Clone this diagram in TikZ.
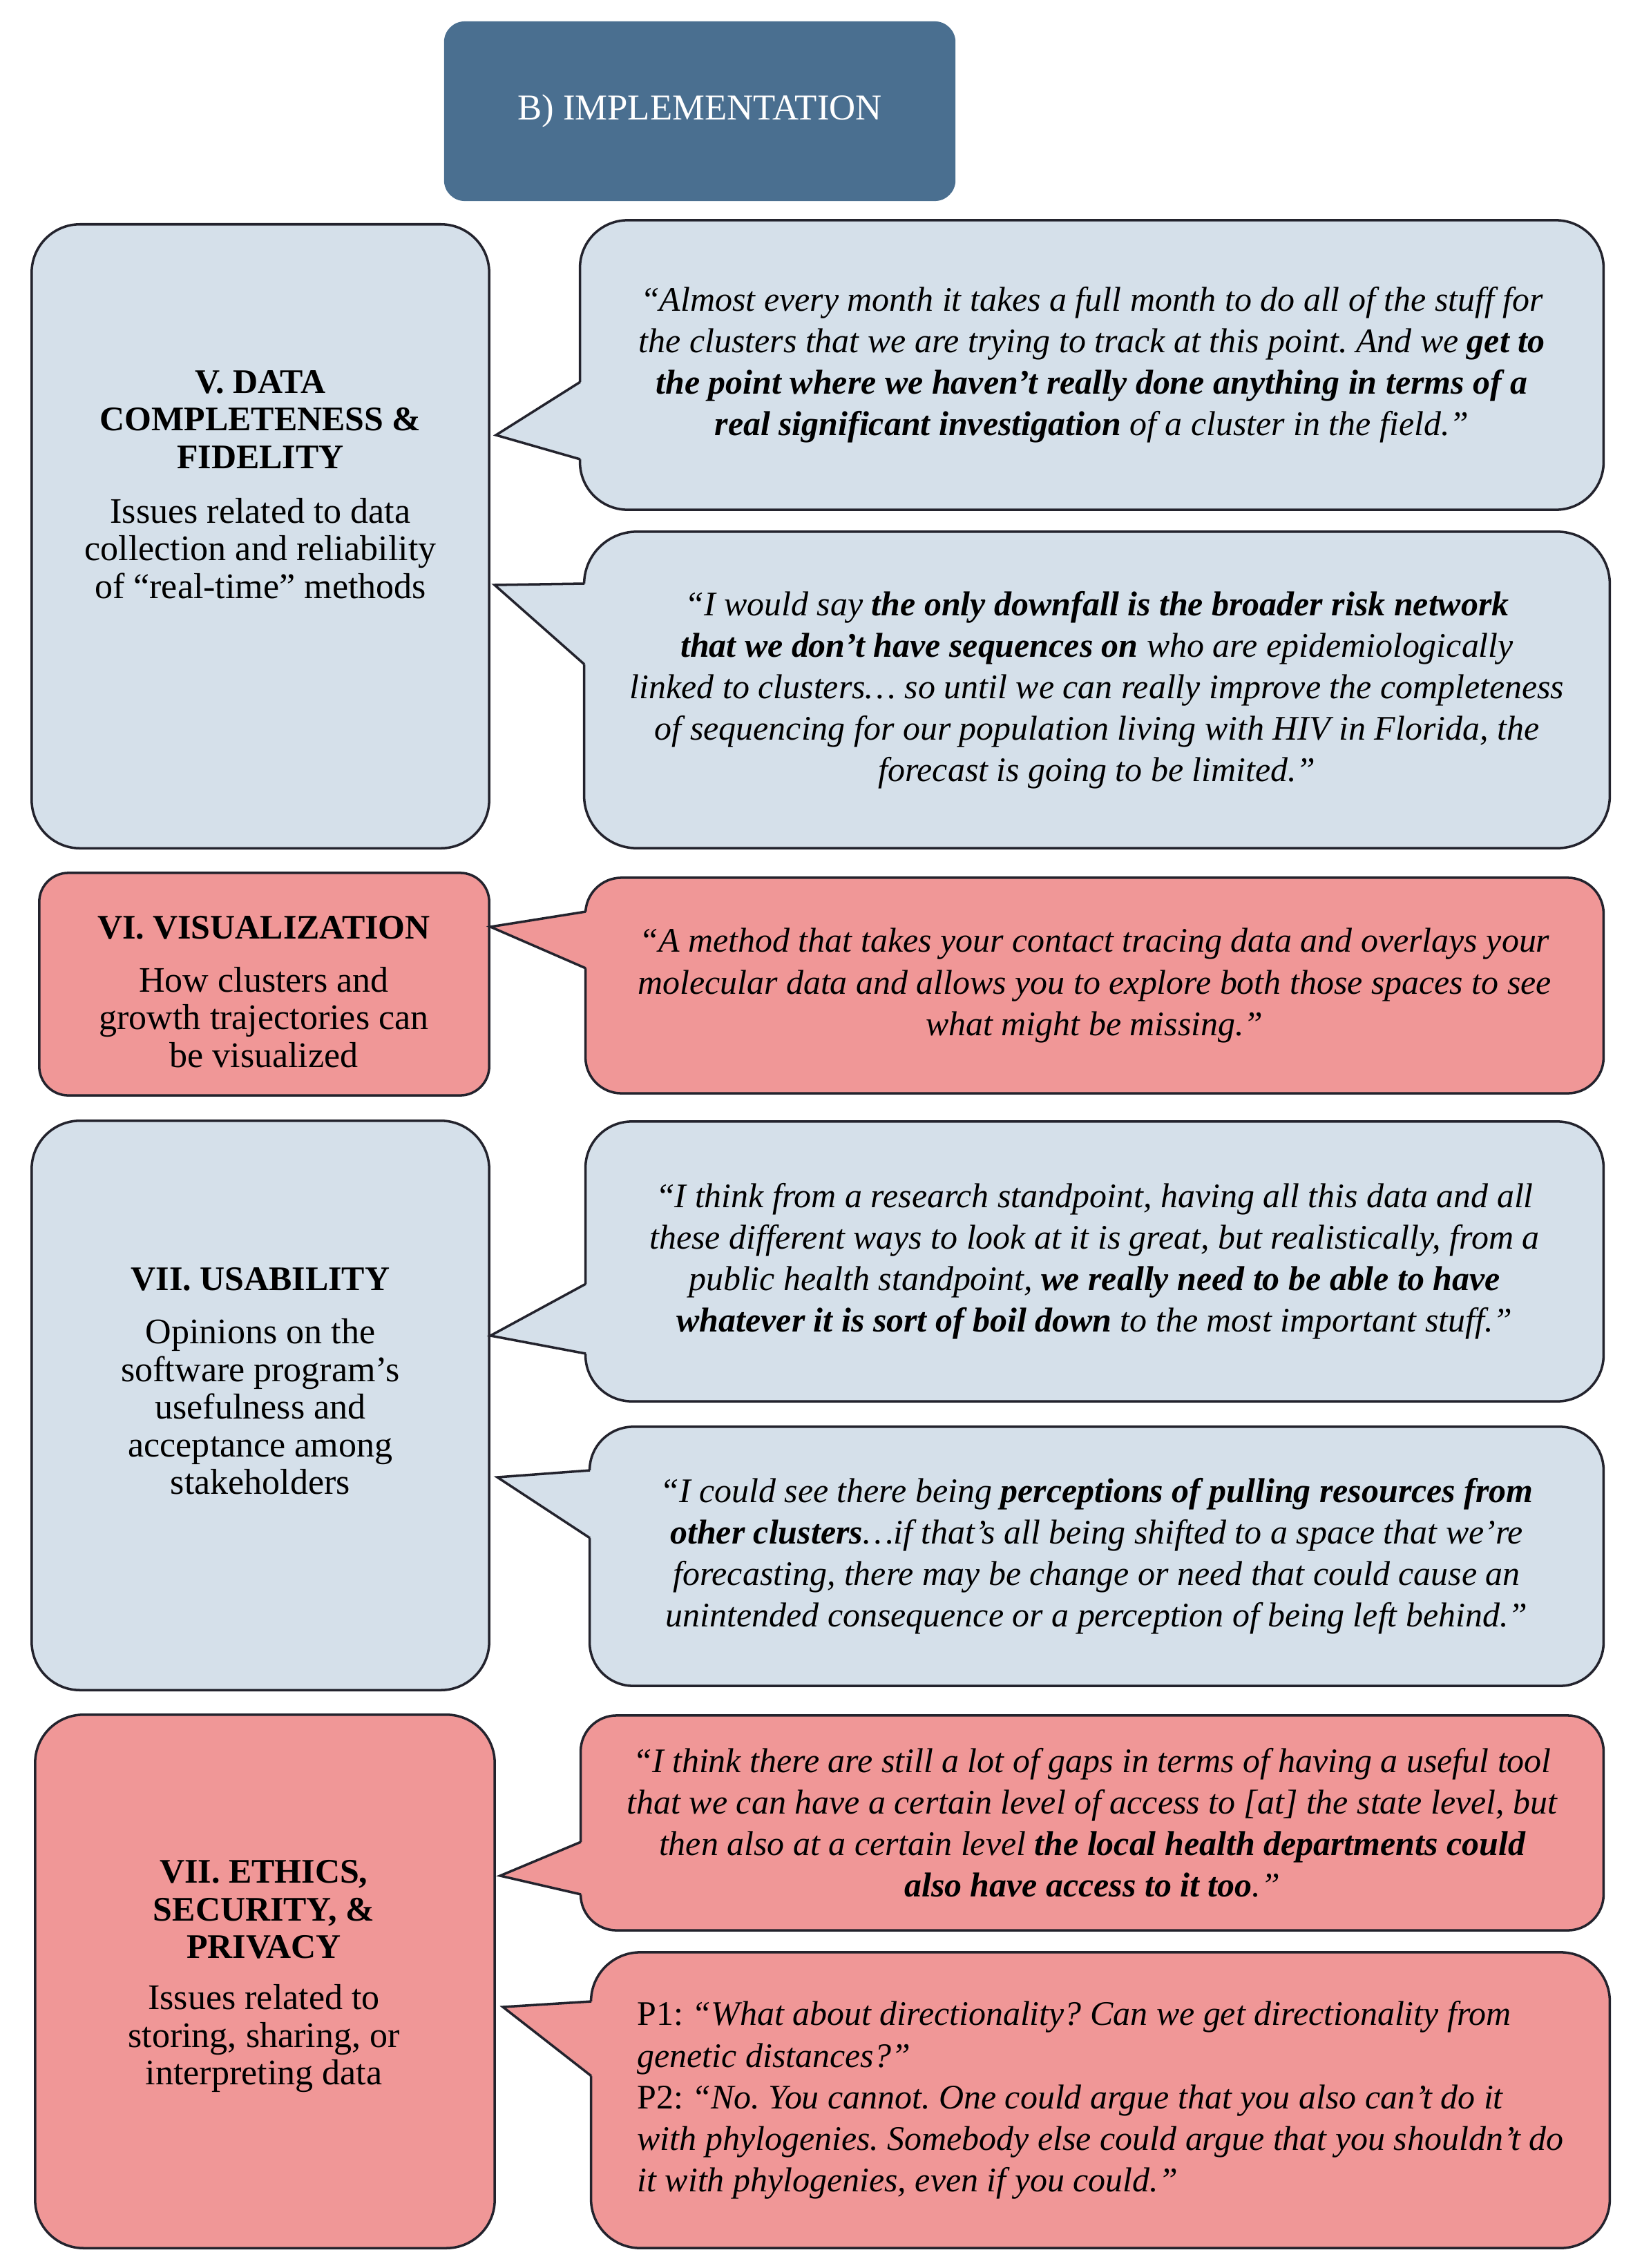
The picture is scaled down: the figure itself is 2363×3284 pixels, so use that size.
\documentclass[tikz,border=0pt]{standalone}
\usepackage{fontspec}
\setmainfont{Liberation Serif}
\definecolor{bluefill}{RGB}{213,224,234}
\definecolor{pinkfill}{RGB}{240,151,151}
\definecolor{titleblue}{RGB}{74,111,144}
\definecolor{edgecol}{RGB}{35,35,45}
\tikzset{
  lbox/.style={draw=edgecol, line width=1pt, rectangle, inner sep=0pt},
  qbubble/.style={draw=edgecol, line width=1pt, rectangle, inner sep=0pt, align=center,
     font=\fontsize{14.2}{17.1}\selectfont\itshape},
  headtxt/.style={align=center, inner sep=0pt, font=\fontsize{14.2}{15.5}\selectfont\bfseries},
  desctxt/.style={align=center, inner sep=0pt, font=\fontsize{14.8}{15.5}\selectfont},
  ptr/.style={draw=edgecol, line width=1pt, line join=miter},
}
\begin{document}
\frenchspacing
\begin{tikzpicture}[x=0.01cm, y=-0.01cm]
\useasboundingbox (0,0) rectangle (2363,3284);

% title
\node[rectangle, fill=titleblue, rounded corners=0.3cm, minimum width=7.40cm, minimum height=2.60cm,
      text=white, font=\fontsize{15}{17}\selectfont] (title) at (1013,161) {B) IMPLEMENTATION};

% left boxes
\node[lbox, fill=bluefill, rounded corners=0.7cm, minimum width=6.62cm, minimum height=9.03cm] (L1) at (377,776.5) {};
\node[lbox, fill=pinkfill, rounded corners=0.42cm, minimum width=6.51cm, minimum height=3.22cm] (L2) at (382.5,1425) {};
\node[lbox, fill=bluefill, rounded corners=0.7cm, minimum width=6.62cm, minimum height=8.24cm] (L3) at (377,2035) {};
\node[lbox, fill=pinkfill, rounded corners=0.7cm, minimum width=6.65cm, minimum height=7.72cm] (L4) at (383.5,2869) {};

\node[headtxt] (h1) at (377,607.5) {V. DATA\\COMPLETENESS \&\\FIDELITY};
\node[desctxt] (d1) at (377,794) {Issues related to data\\collection and reliability\\of “real-time” methods};
\node[headtxt] (h2) at (382,1343) {VI. VISUALIZATION};
\node[desctxt] (d2) at (382,1473) {How clusters and\\growth trajectories can\\be visualized};
\node[headtxt] (h3) at (377,1852) {VII. USABILITY};
\node[desctxt] (d3) at (377,2037) {Opinions on the\\software program’s\\usefulness and\\acceptance among\\stakeholders};
\node[headtxt] (h4) at (382,2765) {VII. ETHICS,\\SECURITY, \&\\PRIVACY};
\node[desctxt] (d4) at (382,2952) {Issues related to\\storing, sharing, or\\interpreting data};

% bubbles
\node[qbubble, fill=bluefill, rounded corners=0.69cm, minimum width=14.81cm, minimum height=4.19cm] (Q1) at (1580.5,528.5)
{“Almost every month it takes a full month to do all of the stuff for\\
the clusters that we are trying to track at this point. And we \textbf{get to}\\
\textbf{the point where we haven’t really done anything in terms of a}\\
\textbf{real significant investigation} of a cluster in the field.”};

\node[qbubble, fill=bluefill, rounded corners=0.76cm, minimum width=14.84cm, minimum height=4.58cm] (Q2) at (1588,999)
{“I would say \textbf{the only downfall is the broader risk network}\\
\textbf{that we don’t have sequences on} who are epidemiologically\\
linked to clusters… so until we can really improve the completeness\\
of sequencing for our population living with HIV in Florida, the\\
forecast is going to be limited.”};

\node[qbubble, fill=pinkfill, rounded corners=0.52cm, minimum width=14.73cm, minimum height=3.12cm] (Q3) at (1584.5,1427)
{“A method that takes your contact tracing data and overlays your\\
molecular data and allows you to explore both those spaces to see\\
what might be missing.”};

\node[qbubble, fill=bluefill, rounded corners=0.67cm, minimum width=14.73cm, minimum height=4.05cm] (Q4) at (1584.5,1826.5)
{“I think from a research standpoint, having all this data and all\\
these different ways to look at it is great, but realistically, from a\\
public health standpoint, \textbf{we really need to be able to have}\\
\textbf{whatever it is sort of boil down} to the most important stuff.”};

\node[qbubble, fill=bluefill, rounded corners=0.63cm, minimum width=14.67cm, minimum height=3.75cm] (Q5) at (1587.5,2253.5)
{“I could see there being \textbf{perceptions of pulling resources from}\\
\textbf{other clusters}…if that’s all being shifted to a space that we’re\\
forecasting, there may be change or need that could cause an\\
unintended consequence or a perception of being left behind.”};

\node[qbubble, fill=pinkfill, rounded corners=0.52cm, minimum width=14.80cm, minimum height=3.11cm] (Q6) at (1581,2639.5)
{“I think there are still a lot of gaps in terms of having a useful tool\\
that we can have a certain level of access to [at] the state level, but\\
then also at a certain level \textbf{the local health departments could}\\
\textbf{also have access to it too}.”};

\node[qbubble, fill=pinkfill, rounded corners=0.71cm, minimum width=14.74cm, minimum height=4.28cm, align=left] (Q7) at (1593,3041)
{{\upshape P1:} “What about directionality? Can we get directionality from\\
genetic distances?”\\
{\upshape P2:} “No. You cannot. One could argue that you also can’t do it\\
with phylogenies. Somebody else could argue that you shouldn’t do\\
it with phylogenies, even if you could.”};

% pointers
\coordinate (t1) at (718,630);  \coordinate (a1) at (840,553);  \coordinate (b1) at (840,665);
\coordinate (t2) at (716,847);  \coordinate (a2) at (846,845);  \coordinate (b2) at (846,962);
\coordinate (t3) at (710,1342); \coordinate (a3) at (848,1320); \coordinate (b3) at (848,1402);
\coordinate (t4) at (710,1934); \coordinate (a4) at (848,1859); \coordinate (b4) at (848,1960);
\coordinate (t5) at (720,2139); \coordinate (a5) at (854,2129); \coordinate (b5) at (854,2227);
\coordinate (t6) at (724,2716); \coordinate (a6) at (841,2667); \coordinate (b6) at (841,2743);
\coordinate (t7) at (728,2906); \coordinate (a7) at (856,2898); \coordinate (b7) at (856,3006);

\foreach \i/\c in {1/bluefill,2/bluefill,3/pinkfill,4/bluefill,5/bluefill,6/pinkfill,7/pinkfill}{
  \fill[\c] (a\i) -- (t\i) -- (b\i) -- ([xshift=0.08cm]b\i) -- ([xshift=0.08cm]a\i) -- cycle;
  \draw[ptr] (a\i) -- (t\i) -- (b\i);
}
\end{tikzpicture}
\end{document}
